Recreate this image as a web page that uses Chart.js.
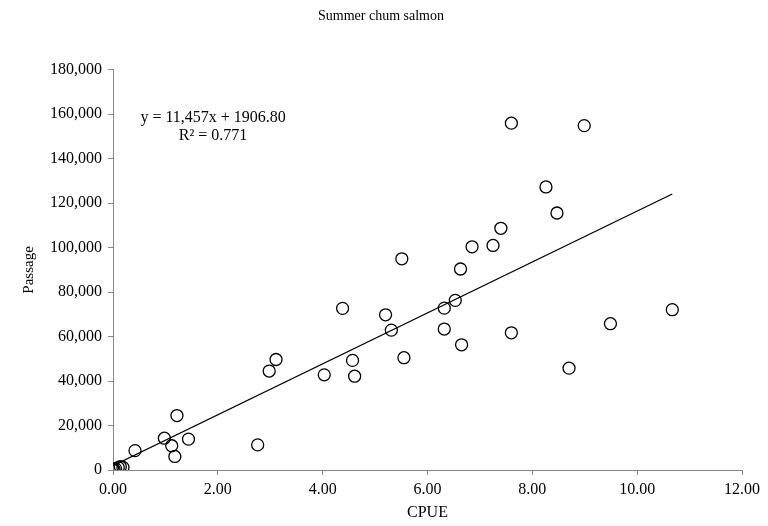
<!DOCTYPE html>
<html>
<head>
<meta charset="utf-8">
<script src="https://cdn.jsdelivr.net/npm/chart.js@4.4.1/dist/chart.umd.min.js"></script>
<style>
  html, body { margin: 0; padding: 0; background: #fff; }
  #wrap { width: 768px; height: 526px; }
</style>
</head>
<body>
<div id="wrap"><canvas id="chart"></canvas></div>
<script>
// CPUE vs passage
const cpue = [7.60, 8.99, 8.26, 8.47, 7.40, 6.85, 7.25, 5.51, 6.63, 6.53,
  4.38, 6.32, 10.67, 5.20, 9.49, 6.32, 5.31, 7.60, 6.65, 3.11,
  5.55, 4.57, 2.98, 8.70, 4.03, 4.61, 1.22, 0.98, 1.44, 2.76,
  1.12, 0.42, 1.18, 0.00, 0.02, 0.05, 0.10, 0.14, 0.19];
const passage = [156000, 154900, 127300, 115600, 108700, 100400, 101000, 95000, 90400, 76300,
  72700, 72800, 72100, 69800, 65800, 63400, 62900, 61700, 56300, 49700,
  50500, 49300, 44500, 45800, 42800, 42200, 24500, 14300, 13900, 11300,
  10900, 8700, 6100, 0, 300, 500, 1100, 1500, 1200];

// trend line printed on the chart
const slope = 11457;
const intercept = 1906.80;
const eqText = ['y = 11,457x + 1906.80', 'R\u00b2 = 0.771'];

const xTicks = [0, 2, 4, 6, 8, 10, 12];
const yMax = 180000;

const points = cpue.map((c, i) => ({ x: c, y: passage[i] }));
const xEnd = Math.max(...cpue);
const trend = [
  { x: 0, y: intercept },
  { x: xEnd, y: slope * xEnd + intercept }
];

const serif = '"Liberation Serif", "Times New Roman", serif';

const eqPlugin = {
  id: 'eq',
  afterDraw(chart) {
    const ctx = chart.ctx;
    const xs = chart.scales.x, ys = chart.scales.y;
    ctx.save();
    ctx.fillStyle = '#000';
    ctx.font = '16px ' + serif;
    ctx.textAlign = 'center';
    ctx.textBaseline = 'middle';
    ctx.fillText(eqText[0], xs.getPixelForValue(1.91), ys.getPixelForValue(158600));
    ctx.fillText(eqText[1], xs.getPixelForValue(1.91), ys.getPixelForValue(150500));
    ctx.restore();
  }
};

new Chart(document.getElementById('chart'), {
  type: 'scatter',
  data: {
    datasets: [
      {
        label: 'Passage',
        data: points,
        pointStyle: 'circle',
        pointRadius: 6,
        pointHoverRadius: 6,
        borderColor: '#000',
        borderWidth: 1.3,
        backgroundColor: 'rgba(0,0,0,0)'
      },
      {
        label: 'Linear',
        type: 'line',
        data: trend,
        borderColor: '#000',
        borderWidth: 1.3,
        pointRadius: 0,
        fill: false
      }
    ]
  },
  options: {
    responsive: true,
    maintainAspectRatio: false,
    animation: false,
    layout: { padding: { top: 0, right: 26, bottom: 4, left: 20 } },
    plugins: {
      legend: { display: false },
      tooltip: { enabled: false },
      title: {
        display: true,
        text: 'Summer chum salmon',
        color: '#000',
        font: { family: serif, size: 14, weight: 'normal' },
        padding: { top: 8, bottom: 45 }
      }
    },
    scales: {
      x: {
        type: 'linear',
        min: 0,
        max: 12,
        afterBuildTicks(scale) { scale.ticks = xTicks.map(v => ({ value: v })); },
        afterFit(scale) { scale.height = 52; },
        ticks: {
          color: '#000',
          font: { family: serif, size: 16 },
          padding: 5,
          maxRotation: 0,
          callback: v => v.toFixed(2)
        },
        grid: { display: true, drawOnChartArea: false, drawTicks: true, tickLength: 5, color: '#888' },
        border: { display: true, color: '#888', width: 1 },
        title: {
          display: true,
          text: 'CPUE',
          color: '#000',
          font: { family: serif, size: 16 },
          padding: { top: 0, bottom: 0 }
        }
      },
      y: {
        min: 0,
        max: yMax,
        afterFit(scale) { scale.width = 93; },
        ticks: {
          stepSize: 20000,
          color: '#000',
          font: { family: serif, size: 16 },
          padding: 6,
          callback: v => v.toLocaleString('en-US')
        },
        grid: { display: true, drawOnChartArea: false, drawTicks: true, tickLength: 5, color: '#888' },
        border: { display: true, color: '#888', width: 1 },
        title: {
          display: true,
          text: 'Passage',
          color: '#000',
          font: { family: serif, size: 15 },
          padding: { top: 0, bottom: 0 }
        }
      }
    }
  },
  plugins: [eqPlugin]
});
</script>
</body>
</html>
